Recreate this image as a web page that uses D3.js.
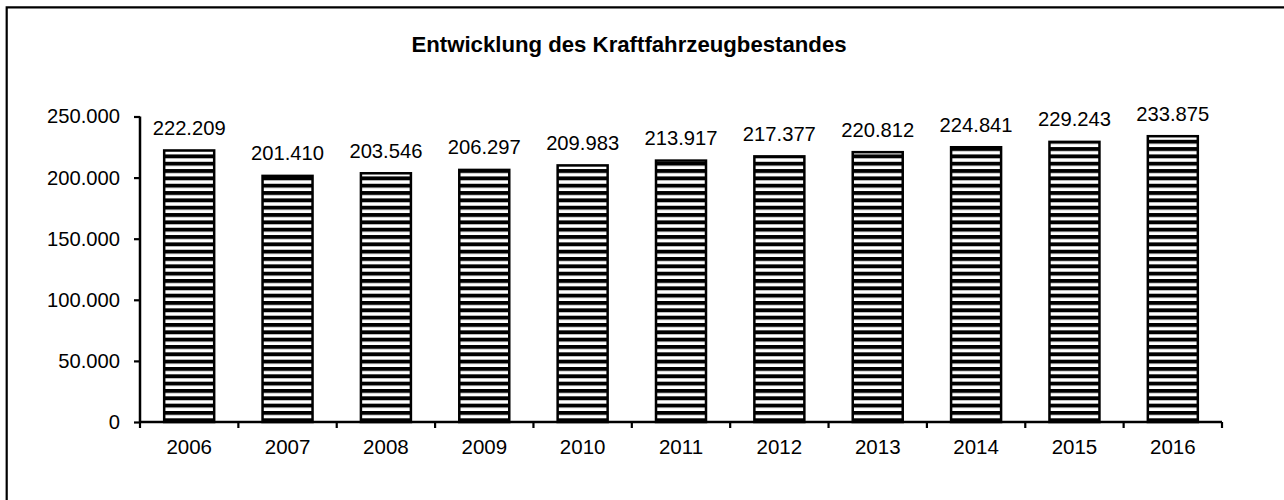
<!DOCTYPE html>
<html><head><meta charset="utf-8">
<script src="https://cdn.jsdelivr.net/npm/d3@7"></script>
<style>html,body{margin:0;padding:0;background:#fff;}svg{display:block;}</style>
</head><body>
<svg id="c" width="1284" height="500"></svg>
<script>
const years = ["2006","2007","2008","2009","2010","2011","2012","2013","2014","2015","2016"];
const values = [222209,201410,203546,206297,209983,213917,217377,220812,224841,229243,233875];
const yTicks = [0,50000,100000,150000,200000,250000];
const title = "Entwicklung des Kraftfahrzeugbestandes";

const svg = d3.select("#c");
const font = "'Liberation Sans', Arial, Helvetica, sans-serif";
const fmt = v => d3.format(",")(v).replace(/,/g, ".");

// frame
svg.append("path").attr("d","M6.7,520V7.3H1300").attr("fill","none").attr("stroke","#000").attr("stroke-width",2.2);

const defs = svg.append("defs");
const pat = defs.append("pattern").attr("id","hstripe").attr("patternUnits","userSpaceOnUse")
  .attr("width",10).attr("height",7.33).attr("y",0.5);
pat.append("rect").attr("width",10).attr("height",7.33).attr("fill","#fff");
pat.append("rect").attr("width",10).attr("height",3.9).attr("fill","#000");

const xb = d3.scaleBand().domain(years).range([140,1222]);
const y = d3.scaleLinear().domain([0,250000]).range([422,116.5]);

svg.append("text").attr("x",629).attr("y",52).attr("text-anchor","middle")
  .attr("font-family",font).attr("font-weight","bold").attr("font-size",22.2).text(title);

// bars
svg.append("g").selectAll("rect").data(values).join("rect")
  .attr("x",(d,i)=>xb(years[i]) + xb.bandwidth()/2 - 25)
  .attr("width",50)
  .attr("y",d=>y(d)).attr("height",d=>y(0)-y(d))
  .attr("fill","url(#hstripe)").attr("stroke","#000").attr("stroke-width",2.5);

// value labels
svg.append("g").selectAll("text").data(values).join("text")
  .attr("x",(d,i)=>xb(years[i]) + xb.bandwidth()/2)
  .attr("y",d=>y(d)-15.5)
  .attr("text-anchor","middle").attr("font-family",font).attr("font-size",20.2)
  .text(d=>fmt(d));

// y axis
const ya = svg.append("g").attr("transform","translate(140,0)")
  .call(d3.axisLeft(y).tickValues(yTicks).tickFormat(fmt).tickSize(6).tickPadding(14));
ya.select(".domain").attr("stroke-width",2.5).attr("d","M0,116.5V422");
ya.selectAll(".tick line").attr("stroke-width",2.2);
ya.selectAll("text").attr("font-family",font).attr("font-size",20.2).attr("fill","#000");

// x axis
const xa = svg.append("g").attr("transform","translate(0,422)")
  .call(d3.axisBottom(xb).tickSize(0).tickPadding(17));
xa.select(".domain").attr("stroke-width",2.5).attr("d","M140,0H1222");
xa.selectAll("text").attr("font-family",font).attr("font-size",20.5).attr("fill","#000");
const bounds = years.map(d=>xb(d)).concat([1222]);
xa.append("g").selectAll("line").data(bounds).join("line")
  .attr("x1",d=>d).attr("x2",d=>d).attr("y1",0).attr("y2",6)
  .attr("stroke","#000").attr("stroke-width",2.2);
</script>
</body></html>
